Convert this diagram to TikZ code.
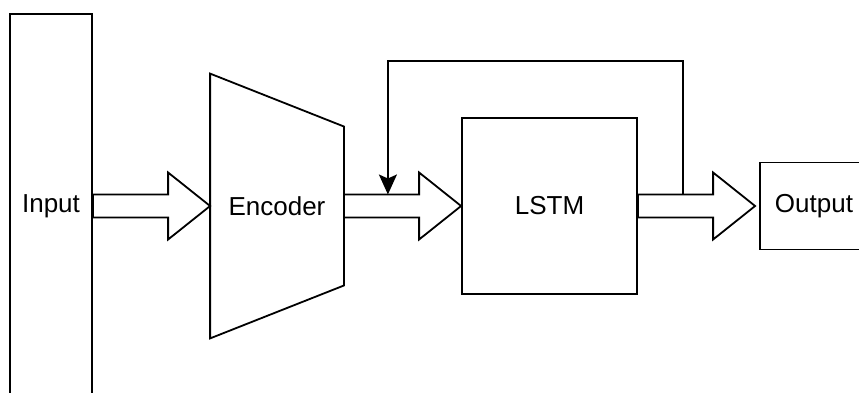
\documentclass[tikz,border=0pt]{standalone}
\usepackage{fontspec}
\setmainfont{Liberation Sans}
\usetikzlibrary{calc,arrows.meta}

\tikzset{
  box/.style={draw, line width=1.8pt, inner sep=0pt, font=\fontsize{26}{30}\selectfont},
  flow/.style={draw, line width=1.8pt, line join=miter},
}

% Block arrow from one point to another
\newcommand{\blockarrow}[2]{%
  \draw[flow] ($(#1)+(0,11.5)$) -- ($(#2)+(-42,11.5)$) -- ($(#2)+(-42,33.5)$)
    -- (#2) -- ($(#2)+(-42,-33.5)$) -- ($(#2)+(-42,-11.5)$) -- ($(#1)+(0,-11.5)$) -- cycle;}

\begin{document}
\begin{tikzpicture}[x=1pt,y=1pt]
\useasboundingbox (0,0) rectangle (859,392);

% Blocks
\node[box, minimum width=82pt, minimum height=384pt] (in) at (51,186) {Input};
\node[box, draw=none, minimum width=132pt, minimum height=263pt] (enc) at (277,186) {Encoder};
\node[box, minimum width=175pt, minimum height=176pt] (lstm) at (549.5,186) {LSTM};
\node[box, minimum width=108pt, minimum height=87pt] (out) at (814,186) {Output};

% Encoder outline
\draw[flow] (enc.north west) -- ($(enc.east)+(0,79.5)$) -- ($(enc.east)+(0,-79.5)$)
  -- (enc.south west) -- cycle;

% Block arrows
\coordinate (outtip) at ($(out.west)+(-4,0)$);
\blockarrow{in.east}{enc.west}
\blockarrow{enc.east}{lstm.west}
\blockarrow{lstm.east}{outtip}

% Feedback loop
\coordinate (fbout) at ($(lstm.east)+(45,11.5)$);
\coordinate (fbin) at ($(enc.east)+(44,11.5)$);
\draw[flow, -{Stealth[length=20pt,width=18pt,inset=4pt]}] (fbout) -- ++(0,133.5) -| (fbin);

\end{tikzpicture}
\end{document}
